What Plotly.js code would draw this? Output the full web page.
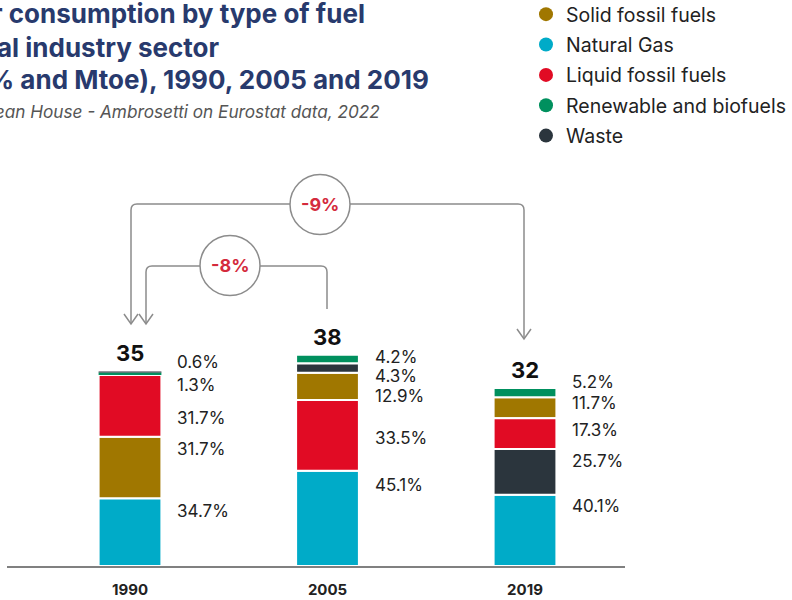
<!DOCTYPE html>
<html>
<head>
<meta charset="utf-8">
<script src="https://cdn.plot.ly/plotly-3.0.1.min.js"></script>
<style>html,body{margin:0;padding:0;background:#fff}</style>
</head>
<body>
<div id="chart" style="width:792px;height:600px"></div>
<script>
// ---- data ----
const years = ['1990', '2005', '2019'];
const totalMtoe = [35, 38, 32];
const fuels = ['Solid fossil fuels', 'Natural Gas', 'Liquid fossil fuels', 'Renewable and biofuels', 'Waste'];
const solidShare = [31.7, 12.9, 11.7];
const gasShare = [34.7, 45.1, 40.1];
const liquidShare = [31.7, 33.5, 17.3];
const renewableShare = [1.3, 4.2, 5.2];
const wasteShare = [0.6, 4.3, 25.7];
const changeLabels = ['-8%', '-9%'];   // 2005 vs 1990, 2019 vs 1990

// ---- presentation ----
const shares = [solidShare, gasShare, liquidShare, renewableShare, wasteShare];
const fuelColors = ['#a07700', '#00abc8', '#e10b24', '#00905e', '#2b353d'];
// stacking order inside each bar, bottom to top (indices into fuels)
const stackOrder = [
  [1, 0, 2, 3, 4],
  [1, 2, 0, 4, 3],
  [1, 4, 2, 0, 3]
];
// vertical nudge (px, upwards) of each share label from its segment centre
const labelNudge = [
  [19, -10, 5],
  [21, 33, 24],
  [-12, -3, 4],
  [-11, 2, 11],
  [10, -8, 11]
];

const W = 792, H = 600;
const M = {l: 7, r: 167, t: 10, b: 34, autoexpand: false};
const X_MIN = -0.6228, X_MAX = 2.5063, Y_MAX = 100;
const plotW = W - M.l - M.r, plotH = H - M.t - M.b;
const pxPerY = plotH / Y_MAX;
const xd = px => X_MIN + (px - M.l) / plotW * (X_MAX - X_MIN);
const yd = py => (H - M.b - py) / plotH * Y_MAX;
const xpaper = px => (px - M.l) / plotW;
const ypaper = py => (H - M.b - py) / plotH;
const BAR_W = 0.318;
const FONT = 'Inter, "Noto Sans", sans-serif';

// segment values (Mtoe) and bases from the stacking order
const xs = years.map((_, i) => i);
const values = shares.map(s => s.map((p, i) => totalMtoe[i] * p / 100));
const bases = shares.map(() => years.map(() => 0));
years.forEach((_, i) => {
  let acc = 0;
  stackOrder[i].forEach(f => { bases[f][i] = acc; acc += values[f][i]; });
});

const traces = [];
fuels.forEach((name, f) => {
  traces.push({
    type: 'bar', x: xs, y: values[f], base: bases[f], width: BAR_W,
    name: name, showlegend: false, hoverinfo: 'skip',
    marker: {
      color: fuelColors[f],
      line: {color: '#ffffff', width: values[f].map(v => v * pxPerY < 4 ? 0 : 2)}
    }
  });
});
// legend entries drawn as round markers
fuels.forEach((name, f) => {
  traces.push({
    type: 'scatter', mode: 'markers', x: [null], y: [null], name: name,
    legendgroup: 'g' + f, marker: {color: fuelColors[f], size: 14, symbol: 'circle'},
    hoverinfo: 'skip'
  });
});

const annotations = [];
// share labels to the right of each bar
fuels.forEach((name, f) => {
  years.forEach((_, i) => {
    annotations.push({
      xref: 'x', yref: 'y', x: i + 0.228, y: bases[f][i] + values[f][i] / 2,
      yshift: labelNudge[f][i], xanchor: 'left', yanchor: 'middle', showarrow: false,
      text: shares[f][i].toFixed(1) + '%',
      font: {family: FONT, size: 17, color: '#222222'}
    });
  });
});
// totals above the bars
years.forEach((_, i) => {
  annotations.push({
    xref: 'x', yref: 'y', x: i, y: totalMtoe[i], yanchor: 'bottom', yshift: 3,
    showarrow: false, text: String(totalMtoe[i]),
    font: {family: FONT, size: 22, color: '#111111', weight: 700}
  });
});
// title block
const titleLines = [
  ['r consumption by type of fuel', 367, 14],
  ['al industry sector', 222, 47],
  ['(% and Mtoe), 1990, 2005 and 2019', 431, 79]
];
titleLines.forEach(([t, right, cy]) => {
  annotations.push({
    xref: 'paper', yref: 'paper', x: xpaper(right), y: ypaper(cy),
    xanchor: 'right', yanchor: 'middle', showarrow: false, text: t,
    font: {family: FONT, size: 26, color: '#283a6d', weight: 700}
  });
});
annotations.push({
  xref: 'paper', yref: 'paper', x: xpaper(382), y: ypaper(112),
  xanchor: 'right', yanchor: 'middle', showarrow: false,
  text: '<i>Source: The European House - Ambrosetti on Eurostat data, 2022</i>',
  font: {family: FONT, size: 17.2, color: '#555555'}
});

// change brackets
const LINE = {color: '#8c8c8c', width: 1.5};
const P = (px, py) => xd(px) + ',' + yd(py);
const shapes = [];
function bracket(xl, xr, top, yl, yr, arrowRight) {
  const r = 6;
  shapes.push({
    type: 'path', xref: 'x', yref: 'y', line: LINE,
    path: 'M' + P(xl, yl) + ' L' + P(xl, top + r) + ' Q' + P(xl, top) + ' ' + P(xl + r, top) +
          ' L' + P(xr - r, top) + ' Q' + P(xr, top) + ' ' + P(xr, top + r) + ' L' + P(xr, yr)
  });
  shapes.push({type: 'path', xref: 'x', yref: 'y', line: LINE,
    path: 'M' + P(xl - 7, yl - 10) + ' L' + P(xl, yl) + ' L' + P(xl + 7, yl - 10)});
  if (arrowRight) {
    shapes.push({type: 'path', xref: 'x', yref: 'y', line: LINE,
      path: 'M' + P(xr - 7, yr - 10) + ' L' + P(xr, yr) + ' L' + P(xr + 7, yr - 10)});
  }
}
function badge(cx, cy, label) {
  const R = 30;
  shapes.push({type: 'circle', xref: 'x', yref: 'y',
    x0: xd(cx - R), x1: xd(cx + R), y0: yd(cy + R), y1: yd(cy - R),
    fillcolor: '#ffffff', line: LINE});
  annotations.push({xref: 'x', yref: 'y', x: xd(cx), y: yd(cy), showarrow: false,
    text: label, font: {family: FONT, size: 18, color: '#d42a3c', weight: 700}});
}
bracket(131, 524, 204, 324, 339, true);
bracket(146, 327, 266, 324, 309, false);
badge(320, 204.5, changeLabels[1]);
badge(230, 265.5, changeLabels[0]);

const layout = {
  width: W, height: H, margin: M,
  paper_bgcolor: '#ffffff', plot_bgcolor: '#ffffff',
  barmode: 'overlay',
  showlegend: true,
  legend: {
    x: xpaper(526), y: ypaper(-5), xanchor: 'left', yanchor: 'top',
    traceorder: 'grouped', tracegroupgap: 2,
    font: {family: FONT, size: 19.5, color: '#222222'},
    bgcolor: 'rgba(0,0,0,0)'
  },
  xaxis: {
    range: [X_MIN, X_MAX], tickvals: xs, ticktext: years, ticks: '',
    showgrid: false, zeroline: false, showline: true, linecolor: '#808080', linewidth: 2,
    tickfont: {family: FONT, size: 15, color: '#222222', weight: 700},
    ticklabelstandoff: 9, fixedrange: true
  },
  yaxis: {range: [0, Y_MAX], visible: false, fixedrange: true},
  shapes: shapes,
  annotations: annotations
};

Plotly.newPlot('chart', traces, layout, {staticPlot: true, displayModeBar: false});
</script>
</body>
</html>
